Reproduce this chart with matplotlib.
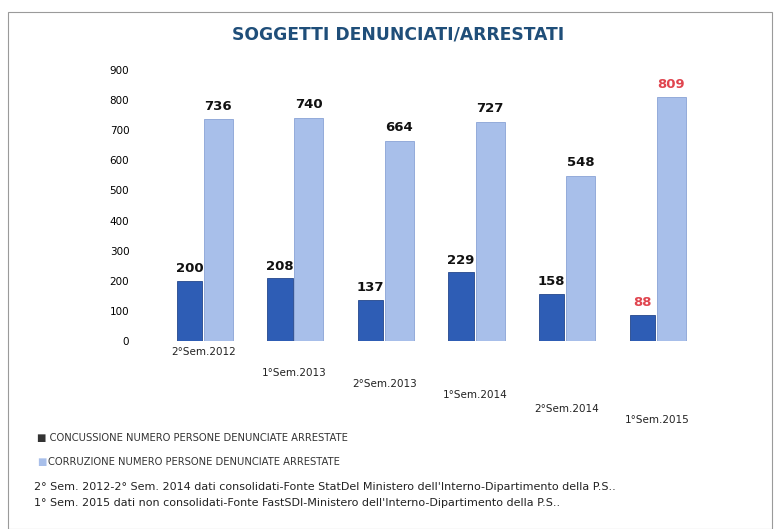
import matplotlib.pyplot as plt
import numpy as np
from matplotlib.patches import Rectangle

# data
periods = ['2°Sem.2012', '1°Sem.2013', '2°Sem.2013', '1°Sem.2014', '2°Sem.2014', '1°Sem.2015']
concussione = [200, 208, 137, 229, 158, 88]
corruzione = [736, 740, 664, 727, 548, 809]
yticks = [0, 100, 200, 300, 400, 500, 600, 700, 800, 900]

dark = '#2E5DB5'
light = '#A8BFEA'

fig = plt.figure(figsize=(7.8, 5.29), dpi=100)
fig.patches.append(Rectangle((0.01, 0.0), 0.98, 0.978, transform=fig.transFigure,
                             fill=False, edgecolor='#9a9a9a', linewidth=0.8))

ax = fig.add_axes([0.18, 0.355, 0.72, 0.513])
x = np.arange(len(periods))
w = 0.28
ax.bar(x - w / 2 - 0.02, concussione, w, color=dark, edgecolor='#24478c', linewidth=0.6)
ax.bar(x + w / 2 + 0.02, corruzione, w + 0.04, color=light, edgecolor='#8aa3d6', linewidth=0.6)

for i, (a, b) in enumerate(zip(concussione, corruzione)):
    col = '#e0454f' if i == len(periods) - 1 else '#111111'
    ax.text(x[i] - w / 2 - 0.02, a + 18, str(a), ha='center', va='bottom',
            fontsize=9.5, fontweight='bold', color=col)
    ax.text(x[i] + w / 2 + 0.02, b + 22, str(b), ha='center', va='bottom',
            fontsize=9.5, fontweight='bold', color=col)

ax.set_xlim(-0.7, 5.5)
ax.set_ylim(0, 900)
ax.set_yticks(yticks)
ax.tick_params(axis='y', length=0, labelsize=7.5, pad=8)
ax.set_xticks(x)
ax.set_xticklabels([])
ax.tick_params(axis='x', length=0)
for s in ax.spines.values():
    s.set_visible(False)

# staggered category labels (perspective of the original)
drops = [4, 19, 27, 35, 45, 53]
for i, lab in enumerate(periods):
    ax.annotate(lab, xy=(x[i], 0), xycoords=('data', 'axes fraction'),
                xytext=(0, -drops[i]), textcoords='offset points',
                ha='center', va='top', fontsize=7.5, color='#222222')

fig.text(0.51, 0.935, 'SOGGETTI DENUNCIATI/ARRESTATI', ha='center', va='center',
         fontsize=12.3, fontweight='bold', color='#1F4E79')

fig.text(0.047, 0.172, '■ CONCUSSIONE NUMERO PERSONE DENUNCIATE ARRESTATE',
         fontsize=7.2, color='#333333', va='center')
fig.text(0.047, 0.127, '■', fontsize=7.2, color=light, va='center')
fig.text(0.061, 0.127, 'CORRUZIONE NUMERO PERSONE DENUNCIATE ARRESTATE',
         fontsize=7.2, color='#333333', va='center')
fig.text(0.043, 0.079,
         "2° Sem. 2012-2° Sem. 2014 dati consolidati-Fonte StatDel Ministero dell'Interno-Dipartimento della P.S..",
         fontsize=8.0, color='#222222', va='center')
fig.text(0.043, 0.049,
         "1° Sem. 2015 dati non consolidati-Fonte FastSDI-Ministero dell'Interno-Dipartimento della P.S..",
         fontsize=8.0, color='#222222', va='center')

fig.savefig('out.png', dpi=100)
